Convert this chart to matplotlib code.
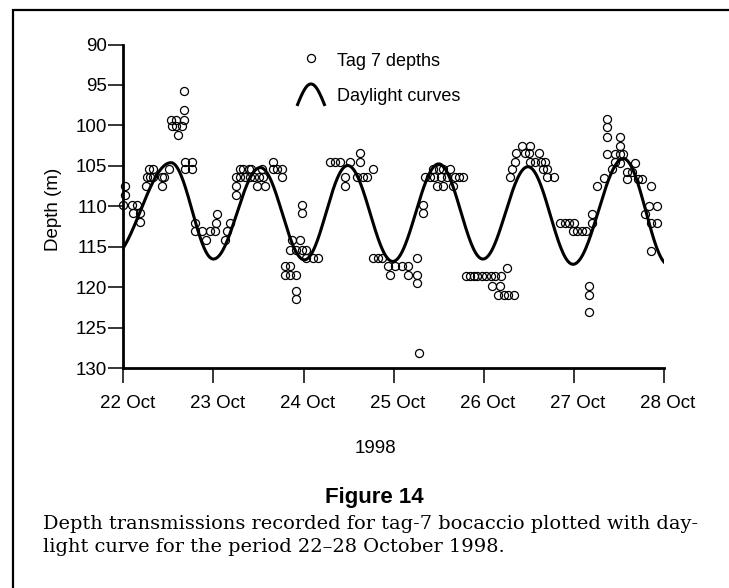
import numpy as np
import matplotlib
matplotlib.use("Agg")
import matplotlib.pyplot as plt
from matplotlib.lines import Line2D
from matplotlib.legend_handler import HandlerBase
from matplotlib.patches import Rectangle
import matplotlib.transforms as mtransforms

plt.rcParams['font.family'] = ['Liberation Sans', 'DejaVu Sans']

# ---------------- data (x = days since 22 Oct 1998 00:00, y = depth in m) -------------
t22 = [0.015, 0.015, 0.00, 0.10, 0.15, 0.11, 0.19, 0.19,
       0.25, 0.26, 0.30, 0.33, 0.28, 0.33, 0.43, 0.43, 0.45, 0.51,
       0.525, 0.54, 0.59, 0.59, 0.61, 0.65, 0.67, 0.67, 0.67,
       0.68, 0.68, 0.76, 0.76,
       0.80, 0.80, 0.87, 0.92, 0.96]
d22 = [107.5, 108.6, 109.8, 109.8, 109.8, 110.8, 110.8, 111.9,
       107.5, 106.4, 106.4, 105.4, 105.4, 106.4, 106.4, 107.5, 106.4, 105.4,
       99.3, 100.1, 99.3, 100.1, 101.2, 100.1, 99.3, 98.1, 95.7,
       104.5, 105.4, 104.5, 105.4,
       112.1, 113.1, 113.1, 114.1, 113.1]

t23 = [1.02, 1.03, 1.04, 1.13, 1.15, 1.18,
       1.25, 1.25, 1.25, 1.30, 1.30, 1.33, 1.35, 1.39, 1.41, 1.42, 1.45, 1.48,
       1.51, 1.54, 1.55, 1.57, 1.665, 1.665, 1.71, 1.76, 1.76,
       1.98, 1.98,
       1.87, 1.96, 1.85, 1.92, 1.98,
       1.79, 1.79, 1.85, 1.85, 1.92, 1.92, 1.92]
d23 = [113.1, 112.1, 110.9, 114.1, 113.1, 112.1,
       108.6, 107.5, 106.4, 105.4, 106.4, 105.4, 106.4, 105.4, 106.4, 105.4, 106.4, 107.5,
       106.4, 105.4, 106.4, 107.5, 104.5, 105.4, 105.4, 105.4, 106.4,
       109.8, 110.8,
       114.1, 114.1, 115.4, 115.4, 115.4,
       117.4, 118.5, 117.4, 118.5, 118.5, 120.5, 121.5]

t24 = [2.03, 2.03, 2.10, 2.16,
       2.29, 2.35, 2.40, 2.46, 2.46, 2.52, 2.63, 2.63, 2.59, 2.66, 2.70, 2.77,
       2.77, 2.83, 2.87, 2.94, 2.96]
d24 = [115.4, 116.4, 116.4, 116.4,
       104.5, 104.5, 104.5, 106.4, 107.5, 104.5, 103.4, 104.5, 106.4, 106.4, 106.4, 105.4,
       116.4, 116.4, 116.4, 117.4, 118.5]

t25 = [3.01, 3.09, 3.16, 3.255, 3.16, 3.26, 3.26, 3.285, 3.33, 3.33,
       3.35, 3.40, 3.44, 3.45, 3.50, 3.52, 3.55, 3.59, 3.63, 3.68, 3.77,
       3.48, 3.55, 3.66, 3.72]
d25 = [117.4, 117.4, 117.4, 116.4, 118.5, 118.5, 119.5, 128.1, 109.8, 110.8,
       106.4, 106.4, 105.4, 106.4, 105.4, 106.4, 105.4, 106.4, 105.4, 106.4, 106.4,
       107.5, 107.5, 107.5, 106.4]

t26 = [3.80, 3.85, 3.89, 3.93, 3.98, 4.03, 4.08, 4.13, 4.19,
       4.26, 4.09, 4.18, 4.16, 4.22, 4.27, 4.33,
       4.42, 4.51, 4.36, 4.50, 4.61, 4.35, 4.51, 4.57, 4.63, 4.68,
       4.31, 4.70, 4.29, 4.70, 4.78, 4.46, 4.66]
d26 = [118.6, 118.6, 118.6, 118.6, 118.6, 118.6, 118.6, 118.6, 118.6,
       117.6, 119.8, 119.8, 120.9, 120.9, 120.9, 120.9,
       102.5, 102.5, 103.4, 103.4, 103.4, 104.5, 104.5, 104.5, 104.5, 104.5,
       105.4, 105.4, 106.4, 106.4, 106.4, 103.4, 105.4]

t27 = [4.85, 4.90, 4.95, 5.00, 4.99, 5.04, 5.09, 5.13,
       5.17, 5.17, 5.17, 5.20, 5.20, 5.26, 5.33,
       5.37, 5.37, 5.37, 5.37, 5.42, 5.46, 5.51, 5.51, 5.51, 5.55, 5.46,
       5.51, 5.59, 5.59, 5.64, 5.68, 5.71, 5.76, 5.86, 5.92, 5.83, 5.79, 5.86, 5.92, 5.86]
d27 = [112.1, 112.1, 112.1, 112.1, 113.1, 113.1, 113.1, 113.1,
       119.8, 120.9, 123.0, 111.0, 112.1, 107.5, 106.5,
       99.2, 100.2, 101.4, 103.5, 105.4, 104.5, 103.5, 102.5, 101.4, 103.5, 103.5,
       104.7, 105.7, 106.6, 105.7, 104.7, 106.6, 106.6, 107.5, 110.0, 110.0, 111.0, 112.1, 112.1, 115.45]

# daylight curve turning points (day, depth)
curve_days = [-0.15, 0.53, 1.00, 1.52, 2.01, 2.49, 2.99, 3.50, 3.99, 4.49, 4.99, 5.55, 6.05]
curve_depths = [116.5, 104.6, 116.5, 105.2, 116.6, 104.95, 116.8, 104.75, 116.5, 105.1, 117.15, 104.1, 117.2]

tick_labels = ['22 Oct', '23 Oct', '24 Oct', '25 Oct', '26 Oct', '27 Oct', '28 Oct']
depth_ticks = [90, 95, 100, 105, 110, 115, 120, 125, 130]

# ---------------- figure ----------------
W, H = 729, 588
fig = plt.figure(figsize=(W / 100, H / 100), dpi=100)

# frame around the figure (left and top visible)
fig.patches.append(Rectangle((13 / W, -0.05), 1.2, 1 - 10 / H + 0.05, transform=fig.transFigure,
                             fill=False, edgecolor='black', linewidth=1.6))

ax_l, ax_r, ax_b, ax_t = 123.3, 664.0, 368.3, 44.5
ax = fig.add_axes([ax_l / W, 1 - ax_b / H, (ax_r - ax_l) / W, (ax_b - ax_t) / H])

t_all = np.concatenate([t22, t23, t24, t25, t26, t27])
d_all = np.concatenate([d22, d23, d24, d25, d26, d27])

# daylight curve: half-cosine between successive turning points
xs, ys = [], []
for i in range(len(curve_days) - 1):
    t0, t1 = curve_days[i], curve_days[i + 1]
    y0, y1 = curve_depths[i], curve_depths[i + 1]
    tt = np.linspace(t0, t1, 60)
    ys.append(y0 + (y1 - y0) * (1 - np.cos(np.pi * (tt - t0) / (t1 - t0))) / 2)
    xs.append(tt)
cx = np.concatenate(xs)
cy = np.concatenate(ys)
ax.plot(cx, cy, color='black', lw=2.2, solid_capstyle='butt', zorder=2)

ax.plot(t_all, d_all, ls='none', marker='o', ms=5.8, mfc='none', mec='black', mew=0.9, zorder=3,
        clip_on=False)

ax.set_xlim(0, 6)
ax.set_ylim(130, 90)
ax.set_xticks(range(len(tick_labels)))
ax.set_xticklabels(tick_labels)
ax.set_yticks(depth_ticks)
for s in ['top', 'right']:
    ax.spines[s].set_visible(False)
for s in ['left', 'bottom']:
    ax.spines[s].set_linewidth(2.0)
ax.tick_params(axis='both', direction='out', length=10.5, width=1.1, labelsize=13.5, color='black')
ax.tick_params(axis='x', pad=9)
ax.tick_params(axis='y', pad=1)
offset = mtransforms.ScaledTranslation(4 / 100, 0, fig.dpi_scale_trans)
for lab in ax.get_xticklabels():
    lab.set_transform(lab.get_transform() + offset)

ax.set_xlabel('1998', fontsize=13.5)
ax.xaxis.label.set_va('center')
ax.xaxis.set_label_coords((375 - ax_l) / (ax_r - ax_l), (ax_b - 448.6) / (ax_b - ax_t))
ax.set_ylabel('Depth (m)', fontsize=13.5)
ax.yaxis.label.set_va('center')
ax.yaxis.set_label_coords((54 - ax_l) / (ax_r - ax_l), (ax_b - 209) / (ax_b - ax_t))


# legend with an arch symbol for the daylight curve
class HandlerArch(HandlerBase):
    def create_artists(self, legend, orig_handle, xdescent, ydescent, width, height, fontsize, trans):
        u = np.linspace(0, 1, 60)
        x = -xdescent + width * u
        y = -ydescent + height * np.sin(np.pi * u)
        ln = Line2D(x, y, color='black', lw=2.2, solid_capstyle='butt')
        ln.set_transform(trans)
        return [ln]


h_pts = Line2D([], [], ls='none', marker='o', ms=5.8, mfc='none', mec='black', mew=0.9)
h_arch = Line2D([], [], color='black', lw=2.2)
fs_leg = 13
px = fs_leg * 100 / 72
leg = ax.legend([h_pts, h_arch], ['Tag 7 depths', 'Daylight curves'],
                handler_map={h_arch: HandlerArch()},
                loc='upper left', bbox_to_anchor=(297 / W, 1 - 49.5 / H), bbox_transform=fig.transFigure,
                frameon=False, borderpad=0, borderaxespad=0, fontsize=fs_leg,
                handlelength=28 / px, handleheight=27 / px, labelspacing=12.5 / px,
                handletextpad=12 / px)

# figure caption
fig.text(374 / W, 1 - 497 / H, 'Figure 14', ha='center', va='center', fontsize=16,
         fontweight='bold')
cap1 = fig.text(43 / W, 1 - 529 / H, 'Depth transmissions recorded for tag-7 bocaccio plotted with day-',
                ha='left', va='baseline', fontsize=13, family='DejaVu Serif')
cap2 = fig.text(43 / W, 1 - 552 / H, 'light curve for the period 22\u201328 October 1998.',
                ha='left', va='baseline', fontsize=13, family='DejaVu Serif')
fig.canvas.draw()
w = cap1.get_window_extent().width
fs = 13 * 652 / w
cap1.set_fontsize(fs)
cap2.set_fontsize(fs)

fig.savefig('out.png', dpi=100)
